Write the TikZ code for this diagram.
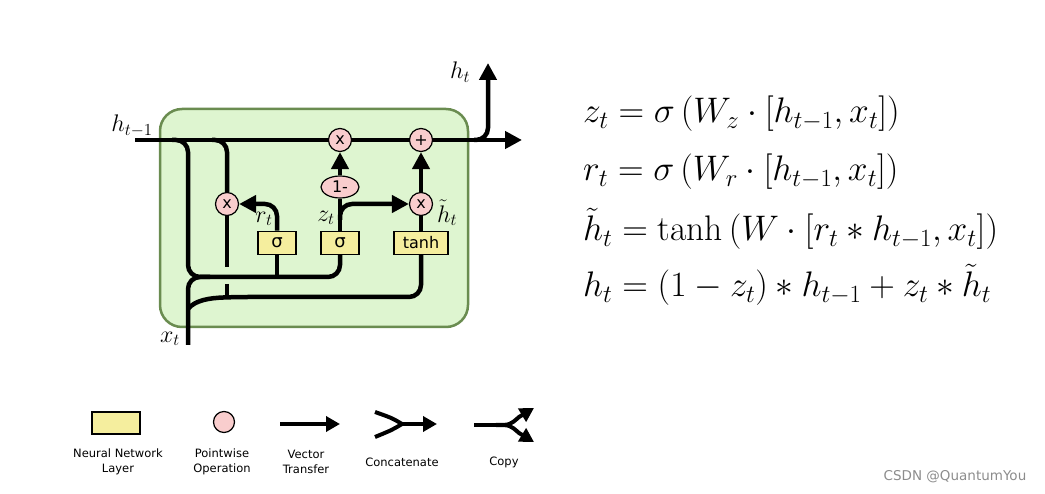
\RequirePackage{fix-cm}
\documentclass[tikz,border=0pt]{standalone}
\usepackage{fontspec}
\usepackage{tikz}
\usetikzlibrary{positioning,shapes,arrows.meta,backgrounds}
\newfontfamily\dejavu{DejaVu Sans}
\definecolor{cellgreen}{RGB}{222,245,208}
\definecolor{cellborder}{RGB}{106,140,80}
\definecolor{layeryellow}{RGB}{245,238,158}
\definecolor{oppink}{RGB}{249,205,205}
\tikzset{
  wire/.style   = {line width=4.5pt, line cap=butt},
  post/.style   = {wire, -{Triangle[length=17pt,width=17pt]}},
  smallpost/.style = {wire, line width=4pt, -{Triangle[length=14pt,width=15pt]}},
  layer/.style  = {draw, line width=1.5pt, fill=layeryellow, rectangle,
                   minimum width=38pt, minimum height=23pt, inner sep=0pt,
                   font=\dejavu\fontsize{18}{18}\selectfont},
  op/.style     = {draw, line width=1.2pt, fill=oppink, circle,
                   minimum size=23pt, inner sep=0pt,
                   font=\dejavu\fontsize{16}{16}\selectfont},
  oneminus/.style = {op, ellipse, minimum width=38pt, minimum height=22pt},
  lbl/.style    = {font=\fontsize{24}{24}\selectfont},
  legtext/.style = {align=center, font=\dejavu\fontsize{11.5}{14.5}\selectfont},
  eqn/.style    = {anchor=base west, inner sep=0pt,
                   font=\fontsize{35.5}{40}\selectfont}
}
\begin{document}
\begin{tikzpicture}[x=1pt,y=-1pt]
  \useasboundingbox (0,0) rectangle (1045,494);
  % gates
  \node[layer] (sig1) at (277,243) {σ};
  \node[layer] (sig2) at (340,243) {σ};
  \node[layer, minimum width=54pt, font=\dejavu\fontsize{16}{16}\selectfont] (tanh) at (421,243) {tanh};
  \node[op] (mulr) at (227,204) {x};
  \node[op] (mulz) at (340,140) {x};
  \node[op] (mulh) at (421,204) {x};
  \node[op] (add) at (421,140) {+};
  \node[oneminus] (one) at (340,187) {1-};
  % ends and splits
  \coordinate (hin) at (135,140);
  \coordinate (hout) at (522,140);
  \coordinate (hsplit) at (474,140);
  \coordinate (htop) at (488,63);
  \coordinate (xin) at (188,345);
  \coordinate (splitA) at (172,140);
  \coordinate (splitB) at (212,140);
  \coordinate (join) at (188,277);
  \coordinate (xfork) at (188,309);
  \coordinate (lowline) at (236,297);
  \coordinate (gapA) at (227,267);
  \coordinate (gapB) at (227,284);
  \coordinate (zsplit) at (340,220);
  \begin{scope}[on background layer]
    \draw[cellborder, fill=cellgreen, line width=2.5pt, rounded corners=22pt]
      (160,109) rectangle (468,327);
    \draw[post] (hin) -- (hout);
    \draw[post, rounded corners=12pt] (hsplit) -| (htop);
    \draw[wire, rounded corners=12pt] (splitA) -| (join) -| (sig2.south);
    \draw[wire] (sig1.south) -- (sig1.south |- join);
    \draw[wire, rounded corners=12pt] (xin) |- ([xshift=22pt]join);
    \draw[wire, rounded corners=12pt] (xfork) .. controls (195,300) and (210,298) .. (lowline)
      -| (tanh.south);
    \draw[wire, rounded corners=12pt] (splitB) -| (mulr.north);
    \draw[wire] (mulr.south) -- (gapA);
    \draw[wire] (gapB) -- (gapB |- lowline);
    \draw[post, rounded corners=12pt] (sig1.north) |- (mulr.east);
    \draw[wire] (sig2.north) -- (one.south);
    \draw[post] (one.north) -- (mulz.south);
    \draw[post, rounded corners=12pt] (zsplit) |- (mulh.west);
    \draw[wire] (tanh.north) -- (mulh.south);
    \draw[post] (mulh.north) -- (add.south);
  \end{scope}
  % labels
  \node[lbl] (lhprev) at (132,126) {$h_{t-1}$};
  \node[lbl] (lhnow) at (460,72) {$h_t$};
  \node[lbl] (lx) at (170,339) {$x_t$};
  \node[lbl] (lr) at (264,219) {$r_t$};
  \node[lbl] (lz) at (326,218) {$z_t$};
  \node[lbl] (lhtil) at (447,213) {$\tilde{h}_t$};
  % equations
  \node[eqn] (eqz) at (583,123) {$z_t = \sigma\left(W_z\cdot[h_{t-1},x_t]\right)$};
  \node[eqn] (eqr) at (583,181) {$r_t = \sigma\left(W_r\cdot[h_{t-1},x_t]\right)$};
  \node[eqn] (eqh) at (583,241) {$\tilde{h}_t = \tanh\left(W\cdot[r_t * h_{t-1},x_t]\right)$};
  \node[eqn] (eqo) at (583,297) {$h_t = (1-z_t) * h_{t-1} + z_t * \tilde{h}_t$};
  % legend
  \node[layer, minimum width=48pt, minimum height=22pt] (leglayer) at (116,423) {};
  \node[op, minimum size=21pt] (legop) at (224,422) {};
  \coordinate (vecA) at (280,424);
  \coordinate (vecB) at (340,424);
  \draw[smallpost] (vecA) -- (vecB);
  \coordinate (catU) at (375,412);
  \coordinate (catL) at (375,437);
  \coordinate (catM) at (402,424);
  \coordinate (catE) at (437,424);
  \draw[wire, line width=4pt] (catU) .. controls (392,418) .. (catM);
  \draw[wire, line width=4pt] (catL) .. controls (392,430) .. (catM);
  \draw[smallpost] ([xshift=-2pt]catM) -- (catE);
  \coordinate (cpA) at (474,425);
  \coordinate (cpM) at (496,425);
  \coordinate (cpU) at (534,408);
  \coordinate (cpL) at (534,442);
  \draw[wire, line width=4pt] (cpA) -- ([xshift=1pt]cpM);
  \draw[smallpost] (cpM) .. controls (510,425) .. (519,417) -- (cpU);
  \draw[smallpost] (cpM) .. controls (510,425) .. (519,433) -- (cpL);
  \node[legtext] (tlayer) at (118,462) {Neural Network\\Layer};
  \node[legtext] (top) at (222,462) {Pointwise\\Operation};
  \node[legtext] (tvec) at (306,462) {Vector\\Transfer};
  \node[legtext] (tcat) at (402,462) {Concatenate};
  \node[legtext] (tcopy) at (504,462) {Copy};
  \node[font=\dejavu\fontsize{13.5}{13.5}\selectfont, text=black!45] (mark) at (955,477) {CSDN @QuantumYou};
\end{tikzpicture}
\end{document}
